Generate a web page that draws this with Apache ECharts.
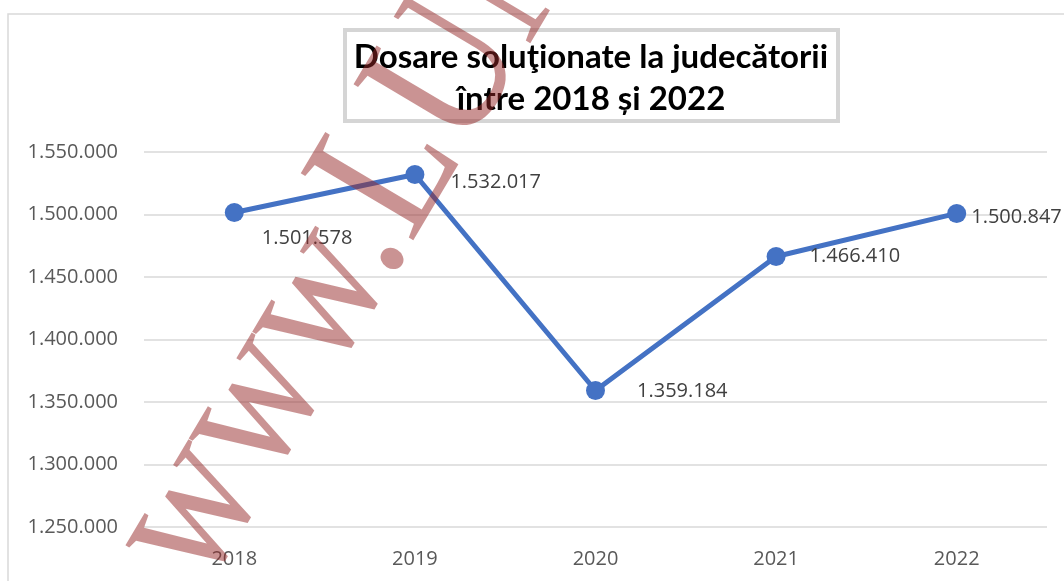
<!DOCTYPE html>
<html>
<head>
<meta charset="utf-8">
<title>Dosare soluţionate la judecătorii</title>
<script src="https://cdn.jsdelivr.net/npm/echarts@6/dist/echarts.min.js"></script>
<style>
  html, body { margin: 0; padding: 0; background: #ffffff; }
  #chart { width: 1064px; height: 581px; }
</style>
</head>
<body>
<div id="chart"></div>
<script>
// Cases resolved by the courts of first instance, per year
const categories = ['2018', '2019', '2020', '2021', '2022'];
const solvedCases = [1501578, 1532017, 1359184, 1466410, 1500847];

// Value axis range and step
const yMin = 1250000;
const yMax = 1550000;
const yStep = 50000;

// Title lines
const titleLines = ['Dosare soluţionate la judecătorii', 'între 2018 și 2022'];

// Per-point nudges for the value labels (placement only)
const labelOffsets = [[13, 26], [21, 8], [27, 1], [19, 0], [0, 4]];

// Romanian thousands grouping: 1.501.578
function fmt(v) {
  return String(Math.round(v)).replace(/\B(?=(\d{3})+(?!\d))/g, '.');
}

const chart = echarts.init(document.getElementById('chart'), null, { renderer: 'canvas' });

const FONT = '"Open Sans", "DejaVu Sans", sans-serif';
const WM_SIZE = 200;

chart.setOption({
  animation: false,
  backgroundColor: '#ffffff',
  grid: { left: 144, right: 17, top: 152, bottom: 54, containLabel: false },
  xAxis: {
    type: 'category',
    data: categories,
    boundaryGap: true,
    axisLine: { show: false },
    axisTick: { show: false },
    axisLabel: { color: '#595959', fontFamily: FONT, fontSize: 20, margin: 22 }
  },
  yAxis: {
    type: 'value',
    min: yMin,
    max: yMax,
    interval: yStep,
    axisLine: { show: false },
    axisTick: { show: false },
    splitLine: { lineStyle: { color: '#d9d9d9', width: 1.5 } },
    axisLabel: { color: '#595959', fontFamily: FONT, fontSize: 20, margin: 26, formatter: fmt }
  },
  series: [{
    type: 'line',
    data: solvedCases.map((v, i) => ({
      value: v,
      label: { offset: labelOffsets[i] }
    })),
    symbol: 'circle',
    symbolSize: 19,
    lineStyle: { color: '#4472C4', width: 5 },
    itemStyle: { color: '#4472C4' },
    label: {
      show: true,
      position: 'right',
      distance: 5,
      color: '#404040',
      fontFamily: FONT,
      fontSize: 20,
      formatter: p => fmt(p.value)
    },
    z: 3
  }],
  graphic: [
    // outer chart frame
    {
      type: 'rect', z: 0, silent: true,
      shape: { x: 8, y: 14, width: 1120, height: 700 },
      style: { fill: 'none', stroke: '#d9d9d9', lineWidth: 1.5 }
    },
    // framed title
    {
      type: 'rect', z: 5, silent: true,
      shape: { x: 345, y: 30, width: 493, height: 91 },
      style: { fill: '#ffffff', stroke: '#d5d5d5', lineWidth: 4 }
    },
    {
      type: 'text', z: 6, silent: true, x: 591, y: 57,
      style: { text: titleLines[0], fill: '#000000', font: 'bold 33px Lato, "Open Sans", sans-serif', align: 'center', verticalAlign: 'middle' }
    },
    {
      type: 'text', z: 6, silent: true, x: 591, y: 99,
      style: { text: titleLines[1], fill: '#000000', font: 'bold 33px Lato, "Open Sans", sans-serif', align: 'center', verticalAlign: 'middle' }
    },
    // site watermark, anchored on its baseline
    {
      type: 'text', z: 20, silent: true,
      x: 217, y: 600,
      rotation: 59.3 * Math.PI / 180,
      scaleX: 0.86,
      style: {
        x: 0, y: -0.3375 * WM_SIZE,
        text: 'www.LUM',
        fill: 'rgba(150, 40, 40, 0.5)',
        font: WM_SIZE + 'px "Liberation Serif", "DejaVu Serif", serif',
        align: 'left',
        verticalAlign: 'middle'
      }
    }
  ]
});
</script>
</body>
</html>
